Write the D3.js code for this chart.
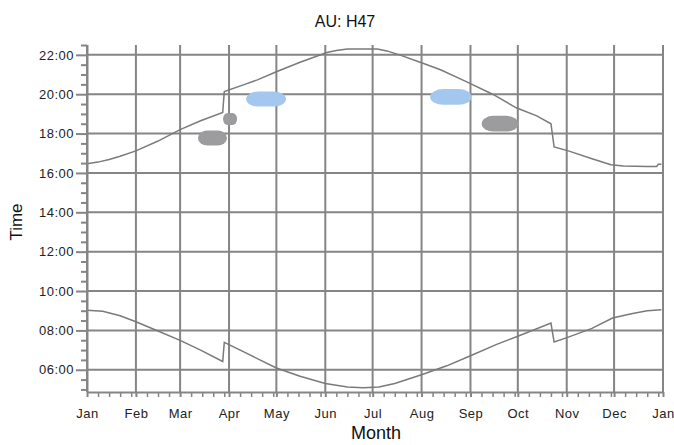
<!DOCTYPE html>
<html>
<head>
<meta charset="utf-8">
<script src="https://cdn.jsdelivr.net/npm/d3@7"></script>
<style>
  html, body { margin: 0; padding: 0; background: #fff; }
  svg { display: block; font-family: "Liberation Sans", Arial, sans-serif; }
</style>
</head>
<body>
<svg id="chart" width="674" height="445"></svg>
<script>
// ---- data (day of year, time in hours) ----
const title = "AU: H47";
const xTitle = "Month";
const yTitle = "Time";
const yMajorTicks = [6, 8, 10, 12, 14, 16, 18, 20, 22];
const yTickLabels = ["06:00", "08:00", "10:00", "12:00", "14:00", "16:00", "18:00", "20:00", "22:00"];

const sunsetDays  = [0, 7, 14, 21, 31, 45, 59, 72, 86, 87, 100, 108, 120, 135, 152, 158, 165, 184, 190, 198, 212, 224, 240, 257, 272, 285, 294, 296, 305, 320, 332, 340, 355, 361, 362, 364];
const sunsetTimes = [16.47, 16.55, 16.68, 16.85, 17.12, 17.62, 18.2, 18.65, 19.07, 20.14, 20.5, 20.73, 21.14, 21.62, 22.12, 22.22, 22.3, 22.3, 22.2, 22.0, 21.6, 21.24, 20.65, 20.0, 19.31, 18.9, 18.5, 17.32, 17.12, 16.72, 16.42, 16.35, 16.33, 16.33, 16.44, 16.44];

const sunriseDays  = [0, 10, 21, 31, 45, 59, 72, 86, 87, 100, 120, 135, 151, 165, 175, 185, 195, 212, 228, 243, 260, 273, 294, 296, 305, 320, 333, 345, 355, 364];
const sunriseTimes = [9.02, 8.97, 8.74, 8.44, 7.97, 7.49, 7.0, 6.42, 7.39, 6.88, 6.09, 5.67, 5.3, 5.12, 5.08, 5.12, 5.3, 5.75, 6.2, 6.71, 7.3, 7.7, 8.37, 7.41, 7.66, 8.1, 8.63, 8.85, 9.0, 9.05];

// activity clusters: day range and time range
const blobTypes  = ["gray", "gray", "blue", "blue", "gray"];
const blobStart  = [70.3, 86.2, 100.8, 217.4, 250.1];
const blobEnd    = [88.7, 95.1, 126.1, 243.8, 273.3];
const blobLow    = [17.39, 18.44, 19.37, 19.46, 18.1];
const blobHigh   = [18.16, 19.05, 20.14, 20.26, 18.9];

// ---- chart ----
const svg = d3.select("#chart");
const L = 87, R = 663, T = 45, B = 392;
const year0 = new Date(2001, 0, 1), year1 = new Date(2002, 0, 1);
const dayToDate = d => new Date(year0.getTime() + d * 86400000);

const x = d3.scaleTime().domain([year0, year1]).range([L, R]);
const y = d3.scaleLinear().domain([4.87, 22.5]).range([B, T]);

const gridColor = "#858585";
const months = d3.timeMonth.range(year0, d3.timeDay.offset(year1, 1));
const minorX = [];
months.slice(0, 12).forEach(m => {
  [8, 15, 22, 29].forEach(dd => {
    const dt = new Date(m.getFullYear(), m.getMonth(), dd);
    if (dt.getMonth() === m.getMonth()) minorX.push(dt);
  });
});
const minorY = d3.range(5, 22.51, 0.5).filter(v => !yMajorTicks.includes(v));

// gridlines
svg.append("g").selectAll("line").data(yMajorTicks).join("line")
  .attr("x1", L).attr("x2", R)
  .attr("y1", d => y(d)).attr("y2", d => y(d))
  .attr("stroke", gridColor).attr("stroke-width", 2);
svg.append("g").selectAll("line").data(months).join("line")
  .attr("x1", d => x(d)).attr("x2", d => x(d))
  .attr("y1", T).attr("y2", B)
  .attr("stroke", gridColor).attr("stroke-width", 2);

// blobs
const blobFill = { gray: "#9c9c9e", blue: "#a4c7ef" };
svg.append("g").selectAll("rect").data(blobTypes.map((t, i) => i)).join("rect")
  .attr("x", i => x(dayToDate(blobStart[i])))
  .attr("y", i => y(blobHigh[i]))
  .attr("width", i => x(dayToDate(blobEnd[i])) - x(dayToDate(blobStart[i])))
  .attr("height", i => y(blobLow[i]) - y(blobHigh[i]))
  .attr("rx", i => (x(dayToDate(blobEnd[i])) - x(dayToDate(blobStart[i]))) * 0.32)
  .attr("ry", i => (y(blobLow[i]) - y(blobHigh[i])) * 0.5)
  .attr("fill", i => blobFill[blobTypes[i]]);

// curves
const line = d3.line().x(d => x(dayToDate(d[0]))).y(d => y(d[1]));
svg.append("path").datum(sunsetDays.map((d, i) => [d, sunsetTimes[i]]))
  .attr("d", line).attr("fill", "none").attr("stroke", "#7a7a7a").attr("stroke-width", 1.5);
svg.append("path").datum(sunriseDays.map((d, i) => [d, sunriseTimes[i]]))
  .attr("d", line).attr("fill", "none").attr("stroke", "#7a7a7a").attr("stroke-width", 1.5);

// y axis
const yAxis = d3.axisLeft(y).tickValues(yMajorTicks).tickSize(11).tickPadding(2)
  .tickFormat((d, i) => yTickLabels[i]);
const gy = svg.append("g").attr("transform", `translate(${L},0)`).call(yAxis);
gy.select(".domain").attr("stroke", gridColor).attr("stroke-width", 2).attr("d", `M0.5,${T}V${B}`);
gy.selectAll(".tick line").attr("stroke", gridColor).attr("stroke-width", 2);
gy.selectAll(".tick text").attr("font-size", 13).attr("fill", "#222").attr("letter-spacing", "0.5px")
  .attr("font-family", "'Liberation Sans', Arial, sans-serif");
const gyMinor = svg.append("g").attr("transform", `translate(${L},0)`)
  .call(d3.axisLeft(y).tickValues(minorY).tickSize(6).tickFormat(""));
gyMinor.select(".domain").remove();
gyMinor.selectAll(".tick line").attr("stroke", gridColor).attr("stroke-width", 2);

// x axis
const xAxis = d3.axisBottom(x).tickValues(months).tickSize(5).tickPadding(12)
  .tickFormat(d3.timeFormat("%b"));
const gx = svg.append("g").attr("transform", `translate(0,${B})`).call(xAxis);
gx.select(".domain").attr("stroke", gridColor).attr("stroke-width", 2).attr("d", `M${L},0.5H${R}`);
gx.selectAll(".tick line").attr("stroke", gridColor).attr("stroke-width", 2);
gx.selectAll(".tick text").attr("font-size", 13).attr("fill", "#222").attr("letter-spacing", "0.5px")
  .attr("font-family", "'Liberation Sans', Arial, sans-serif");
const gxMinor = svg.append("g").attr("transform", `translate(0,${B})`)
  .call(d3.axisBottom(x).tickValues(minorX).tickSize(5).tickFormat(""));
gxMinor.select(".domain").remove();
gxMinor.selectAll(".tick line").attr("stroke", gridColor).attr("stroke-width", 1.5);

// titles
svg.append("text").attr("x", 345).attr("y", 27).attr("text-anchor", "middle")
  .attr("font-size", 16).attr("fill", "#111").text(title);
svg.append("text").attr("x", 376).attr("y", 439).attr("text-anchor", "middle")
  .attr("font-size", 18).attr("fill", "#111").text(xTitle);
svg.append("text").attr("transform", "translate(22,222) rotate(-90)").attr("text-anchor", "middle")
  .attr("font-size", 17).attr("fill", "#111").text(yTitle);
</script>
</body>
</html>
